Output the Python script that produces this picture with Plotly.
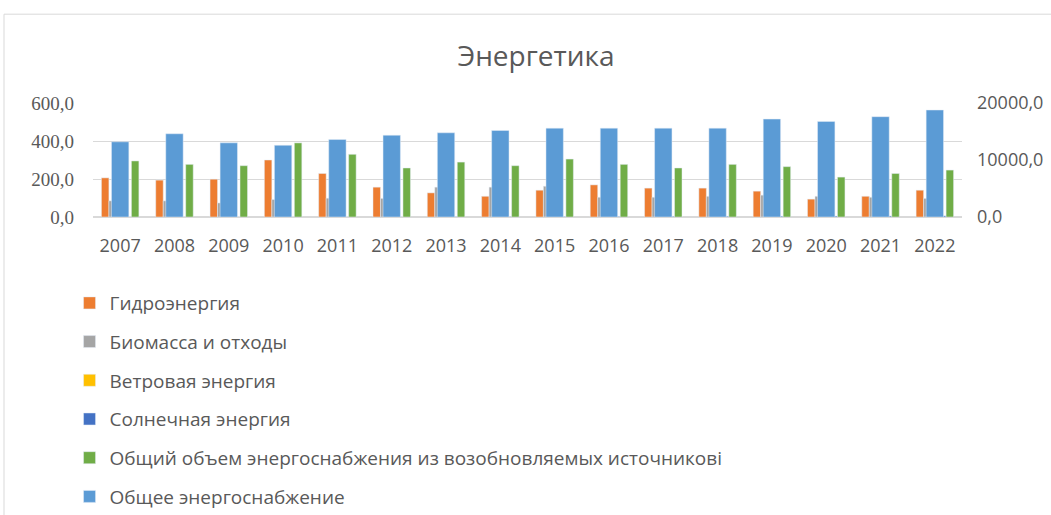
import plotly.graph_objects as go

years = list(range(2007, 2023))
hydro = [206, 194, 199, 300, 229, 157, 127, 109, 141, 169, 152, 152, 136, 94, 109, 141]
biomass = [85, 85, 74, 92, 99, 98, 157, 157, 162, 104, 104, 109, 115, 109, 104, 98]
wind = [0, 0, 0, 0, 0.1, 0.2, 0.3, 0.4, 0.5, 0.6, 0.7, 0.8, 1.0, 1.2, 1.5, 2.0]
solar = [0, 0, 0, 0, 0, 0.1, 1.5, 2.0, 2.5, 3.0, 3.5, 4.0, 4.5, 5.0, 5.5, 6.0]
renew = [295, 277, 270, 390, 330, 258, 289, 270, 305, 277, 258, 277, 265, 210, 229, 247]
total = [13190, 14600, 13010, 12590, 13590, 14350, 14770, 15180, 15590, 15590,
         15590, 15590, 17180, 16770, 17600, 18770]

names = ["Гидроэнергия", "Биомасса и отходы", "Ветровая энергия", "Солнечная энергия",
         "Общий объем энергоснабжения из возобновляемых источникові"]
series = [hydro, biomass, wind, solar, renew]
colors = ["#ED7D31", "#A5A5A5", "#FFC000", "#4472C4", "#70AD47"]

fig = go.Figure()
for i, (nm, vals, c) in enumerate(zip(names, series, colors)):
    fig.add_trace(go.Bar(x=years, y=vals, name=nm, marker_color=c,
                         legendgroup=f"g{i}", yaxis="y"))
fig.add_trace(go.Bar(x=years, y=total, name="Общее энергоснабжение",
                     marker_color="#5B9BD5", width=0.32, yaxis="y2",
                     legendgroup="g5"))

font_sans = "Open Sans, Liberation Sans, sans-serif"
fig.update_layout(
    width=1051, height=515,
    margin=dict(l=93, r=89, t=103, b=298, autoexpand=False),
    paper_bgcolor="white", plot_bgcolor="white",
    separators=", ",
    barmode="group", bargap=0.31, bargroupgap=0,
    title=dict(text="Энергетика", x=0.51, xanchor="center", y=0.89, yanchor="middle",
               font=dict(family=font_sans, size=28, color="#595959")),
    xaxis=dict(range=[2006.5, 2022.5], tickmode="array", tickvals=years,
               ticktext=[str(y) for y in years], showgrid=False, zeroline=False,
               showline=False, ticks="", ticklabelstandoff=16,
               tickfont=dict(family=font_sans, size=18, color="#595959")),
    yaxis=dict(range=[0, 600], dtick=200, tickformat=".1f", showgrid=True,
               gridcolor="#D9D9D9", gridwidth=1, zeroline=True, zerolinecolor="#D9D9D9",
               showline=False, ticks="", ticklabelstandoff=18,
               tickfont=dict(family="Liberation Serif, DejaVu Serif, serif", size=19,
                             color="#595959")),
    yaxis2=dict(range=[0, 20000], dtick=10000, tickformat=".1f", overlaying="y",
                side="right", showgrid=False, zeroline=False, showline=False,
                ticks="", ticklabelstandoff=14,
                tickfont=dict(family=font_sans, size=18, color="#595959")),
    legend=dict(orientation="v", x=-0.027, xanchor="left", y=-0.588, yanchor="top",
                traceorder="grouped", tracegroupgap=11, itemwidth=30,
                font=dict(family=font_sans, size=19, color="#595959"),
                bgcolor="rgba(0,0,0,0)"),
    shapes=[dict(type="rect", xref="paper", yref="paper",
                 x0=-0.1024, x1=1.11, y0=-2.7, y1=1.779,
                 line=dict(color="#D9D9D9", width=1), fillcolor="rgba(0,0,0,0)",
                 layer="below")],
)

fig.write_html("out.html", config={"displayModeBar": False},
               post_script="document.body.style.margin='0';")
